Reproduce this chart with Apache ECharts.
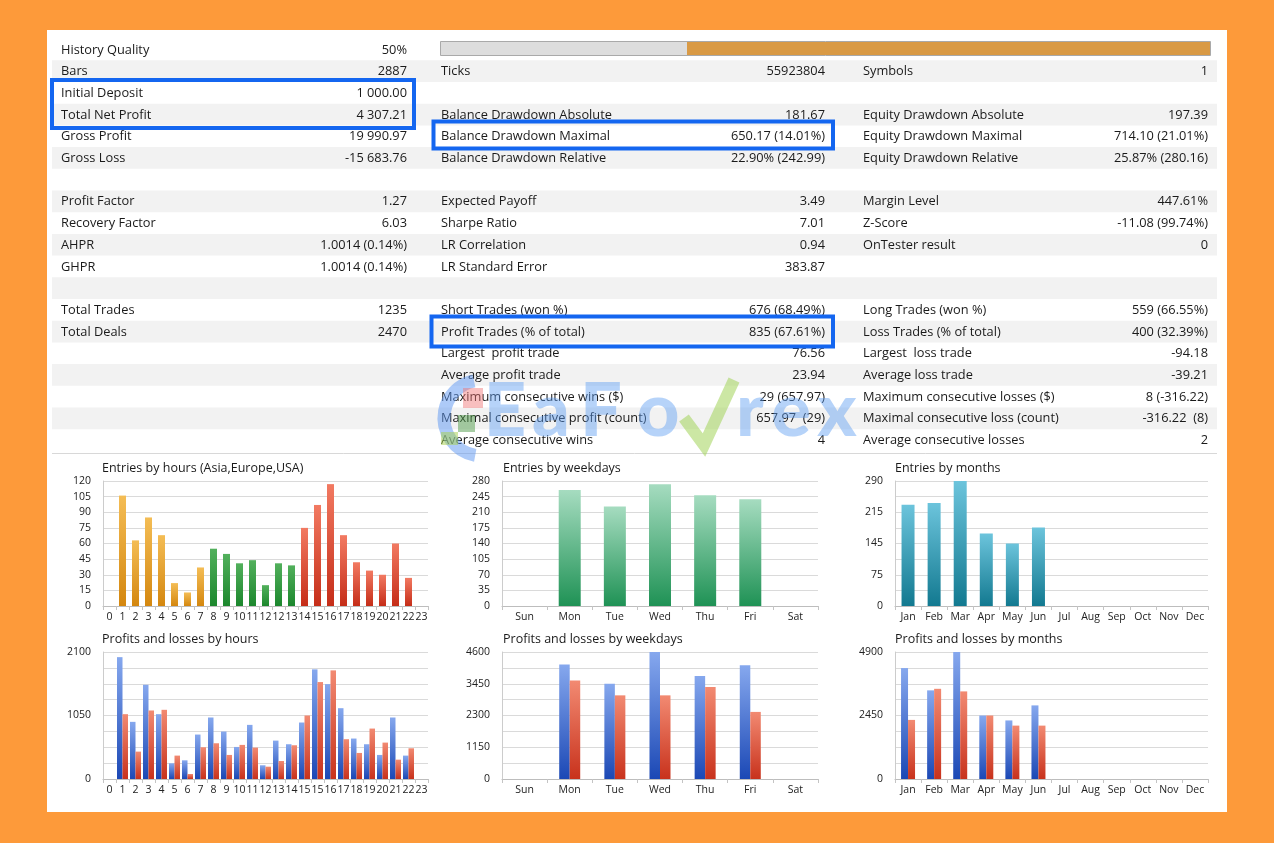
<!DOCTYPE html>
<html>
<head>
<meta charset="utf-8">
<title>Strategy tester report</title>
<script src="https://cdn.jsdelivr.net/npm/echarts@6.0.0/dist/echarts.min.js"></script>
<style>
  html, body { margin: 0; padding: 0; background: #fd9a3a; }
  #main { position: absolute; left: 0; top: 0; width: 1274px; height: 843px; }
</style>
</head>
<body>
<div id="main"></div>
<script>
// ---- report table (label, value), null = empty row ----
var statsLeft = [
  ['History Quality', '50%'], ['Bars', '2887'], ['Initial Deposit', '1 000.00'],
  ['Total Net Profit', '4 307.21'], ['Gross Profit', '19 990.97'], ['Gross Loss', '-15 683.76'],
  null,
  ['Profit Factor', '1.27'], ['Recovery Factor', '6.03'], ['AHPR', '1.0014 (0.14%)'], ['GHPR', '1.0014 (0.14%)'],
  null,
  ['Total Trades', '1235'], ['Total Deals', '2470'],
  null, null, null, null, null
];
var statsMiddle = [
  null, ['Ticks', '55923804'], null,
  ['Balance Drawdown Absolute', '181.67'], ['Balance Drawdown Maximal', '650.17 (14.01%)'],
  ['Balance Drawdown Relative', '22.90% (242.99)'],
  null,
  ['Expected Payoff', '3.49'], ['Sharpe Ratio', '7.01'], ['LR Correlation', '0.94'], ['LR Standard Error', '383.87'],
  null,
  ['Short Trades (won %)', '676 (68.49%)'], ['Profit Trades (% of total)', '835 (67.61%)'],
  ['Largest  profit trade', '76.56'], ['Average profit trade', '23.94'],
  ['Maximum consecutive wins ($)', '29 (657.97)'], ['Maximal consecutive profit (count)', '657.97  (29)'],
  ['Average consecutive wins', '4']
];
var statsRight = [
  null, ['Symbols', '1'], null,
  ['Equity Drawdown Absolute', '197.39'], ['Equity Drawdown Maximal', '714.10 (21.01%)'],
  ['Equity Drawdown Relative', '25.87% (280.16)'],
  null,
  ['Margin Level', '447.61%'], ['Z-Score', '-11.08 (99.74%)'], ['OnTester result', '0'],
  null, null,
  ['Long Trades (won %)', '559 (66.55%)'], ['Loss Trades (% of total)', '400 (32.39%)'],
  ['Largest  loss trade', '-94.18'], ['Average loss trade', '-39.21'],
  ['Maximum consecutive losses ($)', '8 (-316.22)'], ['Maximal consecutive loss (count)', '-316.22  (8)'],
  ['Average consecutive losses', '2']
];

// ---- chart data ----
var hourCatsEntries = ['0','1','2','3','4','5','6','7','8','9','10','11','12','12','13','14','15','16','17','18','19','20','21','22','23'];
var hourCatsPL = ['0','1','2','3','4','5','6','7','8','9','10','11','12','13','14','15','15','16','17','18','19','20','21','22','23'];
var hourEntries = [null,106,63,85,68,22,13,37,55,50,41,44,20,41,39,75,97,117,68,42,34,30,60,27,null];
var hourProfits = [null,2015,945,1558,1072,260,309,735,1017,785,530,895,227,635,575,934,1813,1569,1171,669,575,398,1017,387,null];
var hourLosses  = [null,1072,453,1133,1144,387,83,525,591,398,564,519,204,298,558,1050,1603,1796,658,431,834,602,320,508,null];

var weekdays = ['Sun','Mon','Tue','Wed','Thu','Fri','Sat'];
var weekdayEntries = [null,260,223,273,248,239,null];
var weekdayProfits = [null,4150,3450,4600,3730,4120,null];
var weekdayLosses  = [null,3570,3030,3030,3330,2430,null];

var months = ['Jan','Feb','Mar','Apr','May','Jun','Jul','Aug','Sep','Oct','Nov','Dec'];
var monthEntries = [235,239,290,168,145,182,null,null,null,null,null,null];
var monthProfits = [4280,3420,4900,2450,2260,2840,null,null,null,null,null,null];
var monthLosses  = [2280,3480,3380,2450,2060,2060,null,null,null,null,null,null];

// y tick labels, one per grid line ('' = unlabeled line)
var hourEntryTicks = ['0','15','30','45','60','75','90','105','120'];
var hourPLTicks = ['0','','','','1050','','','','2100'];
var weekdayEntryTicks = ['0','35','70','105','140','175','210','245','280'];
var weekdayPLTicks = ['0','','1150','','2300','','3450','','4600'];
var monthEntryTicks = ['0','','75','','145','','215','','290'];
var monthPLTicks = ['0','','','','2450','','','','4900'];
var axisMax = [120, 2100, 280, 4600, 290, 4900];

// hour slots where sessions start (Europe, USA)
var europeFrom = 8, usaFrom = 15;

var myChart = echarts.init(document.getElementById('main'));

function grad(top, bottom) {
  return { type: 'linear', x: 0, y: 0, x2: 0, y2: 1,
    colorStops: [{ offset: 0, color: top }, { offset: 1, color: bottom }] };
}
var blueGrad = grad('#86a8ee', '#1b48b5');
var redGrad = grad('#f28a72', '#c8321c');

function txt(x, y, text, align) {
  return { type: 'text', x: x, y: y, z: 10, style: {
    text: text, fill: '#1a1a1a', font: '12.8px "Open Sans"',
    textAlign: align, align: align, textVerticalAlign: 'middle', verticalAlign: 'middle'
  } };
}

// ---- graphic: panel, table, boxes, watermark ----
var graphics = [];
graphics.push({ type: 'rect', z: 0, shape: { x: 47, y: 30, width: 1180, height: 782 }, style: { fill: '#ffffff' } });
var rowTop = 38.6, rowH = 21.7;
for (var i = 0; i < statsLeft.length; i++) {
  if (i % 2 === 1) {
    graphics.push({ type: 'rect', z: 1, shape: { x: 52, y: rowTop + rowH * i, width: 1165, height: rowH }, style: { fill: '#f2f2f2' } });
  }
}
graphics.push({ type: 'line', z: 1, shape: { x1: 52, y1: 453.5, x2: 1217, y2: 453.5 }, style: { stroke: '#d8d8d8', lineWidth: 1 } });
// quality bar
graphics.push({ type: 'rect', z: 2, shape: { x: 440.5, y: 41.5, width: 770, height: 14 }, style: { fill: '#dddddd', stroke: '#a9a9a9', lineWidth: 1 } });
graphics.push({ type: 'rect', z: 3, shape: { x: 687, y: 42, width: 523, height: 13 }, style: { fill: '#d99a45' } });

var columns = [
  { rows: statsLeft, labelX: 61, valueX: 407 },
  { rows: statsMiddle, labelX: 441, valueX: 825 },
  { rows: statsRight, labelX: 863, valueX: 1208 }
];
columns.forEach(function (col) {
  col.rows.forEach(function (r, i) {
    if (!r) return;
    var cy = rowTop + rowH * i + rowH / 2 + 0.5;
    graphics.push(txt(col.labelX, cy, r[0], 'left'));
    graphics.push(txt(col.valueX, cy, r[1], 'right'));
  });
});

// blue highlight frames
[[52, 80, 362, 48], [433.5, 121.5, 399.5, 27], [431.5, 316.5, 401.5, 30]].forEach(function (b) {
  graphics.push({ type: 'rect', z: 20, shape: { x: b[0], y: b[1], width: b[2], height: b[3] },
    style: { fill: 'none', stroke: '#1466f0', lineWidth: 4 } });
});

// watermark logo
graphics.push({ type: 'arc', z: 50, shape: { cx: 482, cy: 418, r: 38, startAngle: 1.75, endAngle: 4.5 },
  style: { stroke: '#5b95f2', lineWidth: 13, opacity: 0.5, fill: 'none' } });
graphics.push({ type: 'rect', z: 51, shape: { x: 463, y: 388, width: 20, height: 20 }, style: { fill: '#f07070', opacity: 0.45 } });
graphics.push({ type: 'rect', z: 51, shape: { x: 458, y: 415, width: 17, height: 17 }, style: { fill: '#4f9c4a', opacity: 0.5 } });
graphics.push({ type: 'rect', z: 51, shape: { x: 441, y: 432, width: 17, height: 13 }, style: { fill: '#a6d04a', opacity: 0.5 } });
var logoLetters = [['E', 505], ['a', 551], ['F', 601], ['o', 658], ['r', 750], ['e', 791], ['x', 837]];
logoLetters.forEach(function (l) {
  graphics.push({ type: 'text', z: 50, x: l[1], y: 449,
    style: { text: l[0], font: '900 74px Lato', fill: '#5e9ef2', opacity: 0.45,
      textAlign: 'center', align: 'center', textVerticalAlign: 'bottom', verticalAlign: 'bottom' } });
});
graphics.push({ type: 'polyline', z: 52, shape: { points: [[684, 418], [704, 445], [734, 380]] },
  style: { stroke: '#a2d45a', lineWidth: 12, opacity: 0.55, fill: 'none' } });

// ---- six bar charts ----
var grids = [
  { left: 103, top: 481, width: 325, height: 125 },
  { left: 103, top: 652, width: 325, height: 127 },
  { left: 502, top: 481, width: 316, height: 125 },
  { left: 502, top: 652, width: 316, height: 127 },
  { left: 895, top: 481, width: 313, height: 125 },
  { left: 895, top: 652, width: 313, height: 127 }
];
var tickSets = [hourEntryTicks, hourPLTicks, weekdayEntryTicks, weekdayPLTicks, monthEntryTicks, monthPLTicks];
var catSets = [hourCatsEntries, hourCatsPL, weekdays, weekdays, months, months];
var titles = [
  ['Entries by hours (Asia,Europe,USA)', 102, 462],
  ['Profits and losses by hours', 102, 633],
  ['Entries by weekdays', 503, 462],
  ['Profits and losses by weekdays', 503, 633],
  ['Entries by months', 895, 462],
  ['Profits and losses by months', 895, 633]
];

var xAxes = catSets.map(function (cats, g) {
  return {
    type: 'category', gridIndex: g, data: cats, boundaryGap: true,
    axisLine: { lineStyle: { color: '#bdbdbd' } },
    axisTick: { show: true, length: 4, lineStyle: { color: '#c4c4c4' } },
    axisLabel: { interval: 0, fontSize: 10.5, color: '#222', margin: 6, fontFamily: 'Open Sans' }
  };
});
var yAxes = tickSets.map(function (ticks, g) {
  var interval = axisMax[g] / 8;
  return {
    type: 'value', gridIndex: g, min: 0, max: axisMax[g], interval: interval,
    axisLine: { show: true, lineStyle: { color: '#cccccc' } },
    axisTick: { show: false },
    splitLine: { lineStyle: { color: '#dadada' } },
    axisLabel: {
      fontSize: 10.5, color: '#222', margin: 12, fontFamily: 'Open Sans',
      formatter: function (v) { return ticks[Math.round(v / interval)] || ''; }
    }
  };
});

function hourColor(i) {
  if (i < europeFrom) return grad('#f4bd55', '#d4870f');
  if (i < usaFrom) return grad('#52b05c', '#1c872d');
  return grad('#f27a62', '#c52d18');
}

var series = [
  { type: 'bar', xAxisIndex: 0, yAxisIndex: 0, barWidth: 7,
    data: hourEntries.map(function (v, i) { return { value: v, itemStyle: { color: hourColor(i) } }; }) },
  { type: 'bar', xAxisIndex: 1, yAxisIndex: 1, barWidth: 5.5, barGap: '0%', itemStyle: { color: blueGrad }, data: hourProfits },
  { type: 'bar', xAxisIndex: 1, yAxisIndex: 1, barWidth: 5.5, barGap: '0%', itemStyle: { color: redGrad }, data: hourLosses },
  { type: 'bar', xAxisIndex: 2, yAxisIndex: 2, barWidth: 22, itemStyle: { color: grad('#a6dcc0', '#1f9255') }, data: weekdayEntries },
  { type: 'bar', xAxisIndex: 3, yAxisIndex: 3, barWidth: 10.5, barGap: '0%', itemStyle: { color: blueGrad }, data: weekdayProfits },
  { type: 'bar', xAxisIndex: 3, yAxisIndex: 3, barWidth: 10.5, barGap: '0%', itemStyle: { color: redGrad }, data: weekdayLosses },
  { type: 'bar', xAxisIndex: 4, yAxisIndex: 4, barWidth: 13, itemStyle: { color: grad('#6cc4dc', '#127990') }, data: monthEntries },
  { type: 'bar', xAxisIndex: 5, yAxisIndex: 5, barWidth: 7, barGap: '0%', itemStyle: { color: blueGrad }, data: monthProfits },
  { type: 'bar', xAxisIndex: 5, yAxisIndex: 5, barWidth: 7, barGap: '0%', itemStyle: { color: redGrad }, data: monthLosses }
];

var option = {
  backgroundColor: '#fd9a3a',
  animation: false,
  title: titles.map(function (t) {
    return { text: t[0], left: t[1], top: t[2], padding: 0,
      textStyle: { fontSize: 12.5, fontWeight: 'normal', color: '#1a1a1a', fontFamily: 'Open Sans' } };
  }),
  grid: grids,
  xAxis: xAxes,
  yAxis: yAxes,
  series: series,
  graphic: { elements: graphics }
};
myChart.setOption(option, true);
</script>
</body>
</html>
